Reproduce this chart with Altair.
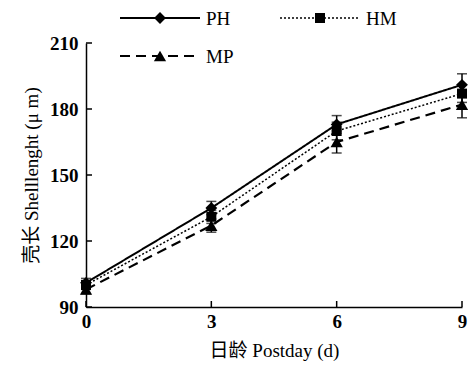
import altair as alt
import pandas as pd

days = [0, 3, 6, 9]
series = ["PH", "HM", "MP"]
ph_mean = [101, 135, 173, 191]
hm_mean = [100, 131, 170, 187]
mp_mean = [98, 127, 165, 182]
ph_err = [2, 3, 4, 5]
hm_err = [2, 3, 4, 4]
mp_err = [2, 3, 5, 6]
y_ticks = [90, 120, 150, 180, 210]
x_ticks = [0, 3, 6, 9]

rows = []
for name, means, errs in [("PH", ph_mean, ph_err), ("HM", hm_mean, hm_err), ("MP", mp_mean, mp_err)]:
    for d, m, e in zip(days, means, errs):
        rows.append({"series": name, "day": d, "mean": m, "lo": m - e, "hi": m + e})
df = pd.DataFrame(rows)

W, H = 376, 264
FONT = "Liberation Serif, Noto Sans CJK SC"

xs = alt.Scale(domain=[0, 9], nice=False, zero=False)
ys = alt.Scale(domain=[90, 210], nice=False, zero=False)

dash_map = {"PH": [1, 0], "HM": [2, 2], "MP": [10, 6]}
shape_map = {"PH": "diamond", "HM": "square", "MP": "triangle-up"}
width_map = {"PH": 2, "HM": 1.5, "MP": 2.2}
size_map = {"PH": 140, "HM": 100, "MP": 150}

layers = []
for s in series:
    d = df[df.series == s]
    base = alt.Chart(d)
    layers.append(base.mark_line(color="black", strokeWidth=width_map[s], strokeDash=dash_map[s]).encode(
        x=alt.X("day:Q", scale=xs), y=alt.Y("mean:Q", scale=ys)))
    layers.append(base.mark_rule(color="black", strokeWidth=1.5).encode(
        x="day:Q", y="lo:Q", y2="hi:Q"))
    layers.append(base.mark_tick(color="black", orient="horizontal", size=10, thickness=1.5).encode(
        x="day:Q", y="lo:Q"))
    layers.append(base.mark_tick(color="black", orient="horizontal", size=10, thickness=1.5).encode(
        x="day:Q", y="hi:Q"))
    layers.append(base.mark_point(color="black", filled=True, opacity=1, shape=shape_map[s], size=size_map[s]).encode(
        x="day:Q", y="mean:Q"))

# inward ticks
yt = pd.DataFrame({"v": y_ticks})
xt = pd.DataFrame({"v": x_ticks})
layers.append(alt.Chart(yt).mark_rule(color="black", strokeWidth=1.5).encode(
    y=alt.Y("v:Q", scale=ys), x=alt.value(0), x2=alt.value(6)))
layers.append(alt.Chart(xt).mark_rule(color="black", strokeWidth=1.5).encode(
    x=alt.X("v:Q", scale=xs), y=alt.value(H), y2=alt.value(H - 6)))

# legend
leg = pd.DataFrame({"series": series, "lx": [34, 194, 34], "ly": [-25, -25, 13]})
for i, s in enumerate(series):
    r = leg[leg.series == s]
    lx = int(r.lx.iloc[0]); ly = int(r.ly.iloc[0])
    b = alt.Chart(r)
    layers.append(b.mark_rule(color="black", strokeWidth=width_map[s], strokeDash=dash_map[s]).encode(
        x=alt.value(lx), x2=alt.value(lx + 80), y=alt.value(ly)))
    layers.append(b.mark_point(color="black", filled=True, opacity=1, shape=shape_map[s], size=size_map[s]).encode(
        x=alt.value(lx + 40), y=alt.value(ly)))
    layers.append(b.mark_text(font=FONT, fontSize=19, align="left", baseline="middle", color="black").encode(
        x=alt.value(lx + 86), y=alt.value(ly + 1), text="series:N"))

chart = alt.layer(*layers).encode(
    x=alt.X("day:Q", scale=xs, axis=alt.Axis(values=x_ticks, title="日龄 Postday (d)", ticks=False,
        labelPadding=5, titlePadding=10)),
    y=alt.Y("mean:Q", scale=ys, axis=alt.Axis(values=y_ticks, title="壳长 Shelllenght (μ m)", ticks=False,
        labelPadding=8, titlePadding=8)),
).properties(
    width=W, height=H, autosize=alt.AutoSizeParams(type="none"),
    padding={"left": 78, "top": 35, "right": 6, "bottom": 55}
).configure_view(stroke=None).configure_axis(
    domainColor="black", domainWidth=1.5, grid=False,
    labelFont=FONT, labelFontSize=19, labelColor="black", labelFontWeight="bold",
    titleFont=FONT, titleFontSize=19, titleColor="black", titleFontWeight="normal",
).configure_axisX(labelFlush=False)

chart.save("out.html", embed_options={"renderer": "svg", "actions": False})
